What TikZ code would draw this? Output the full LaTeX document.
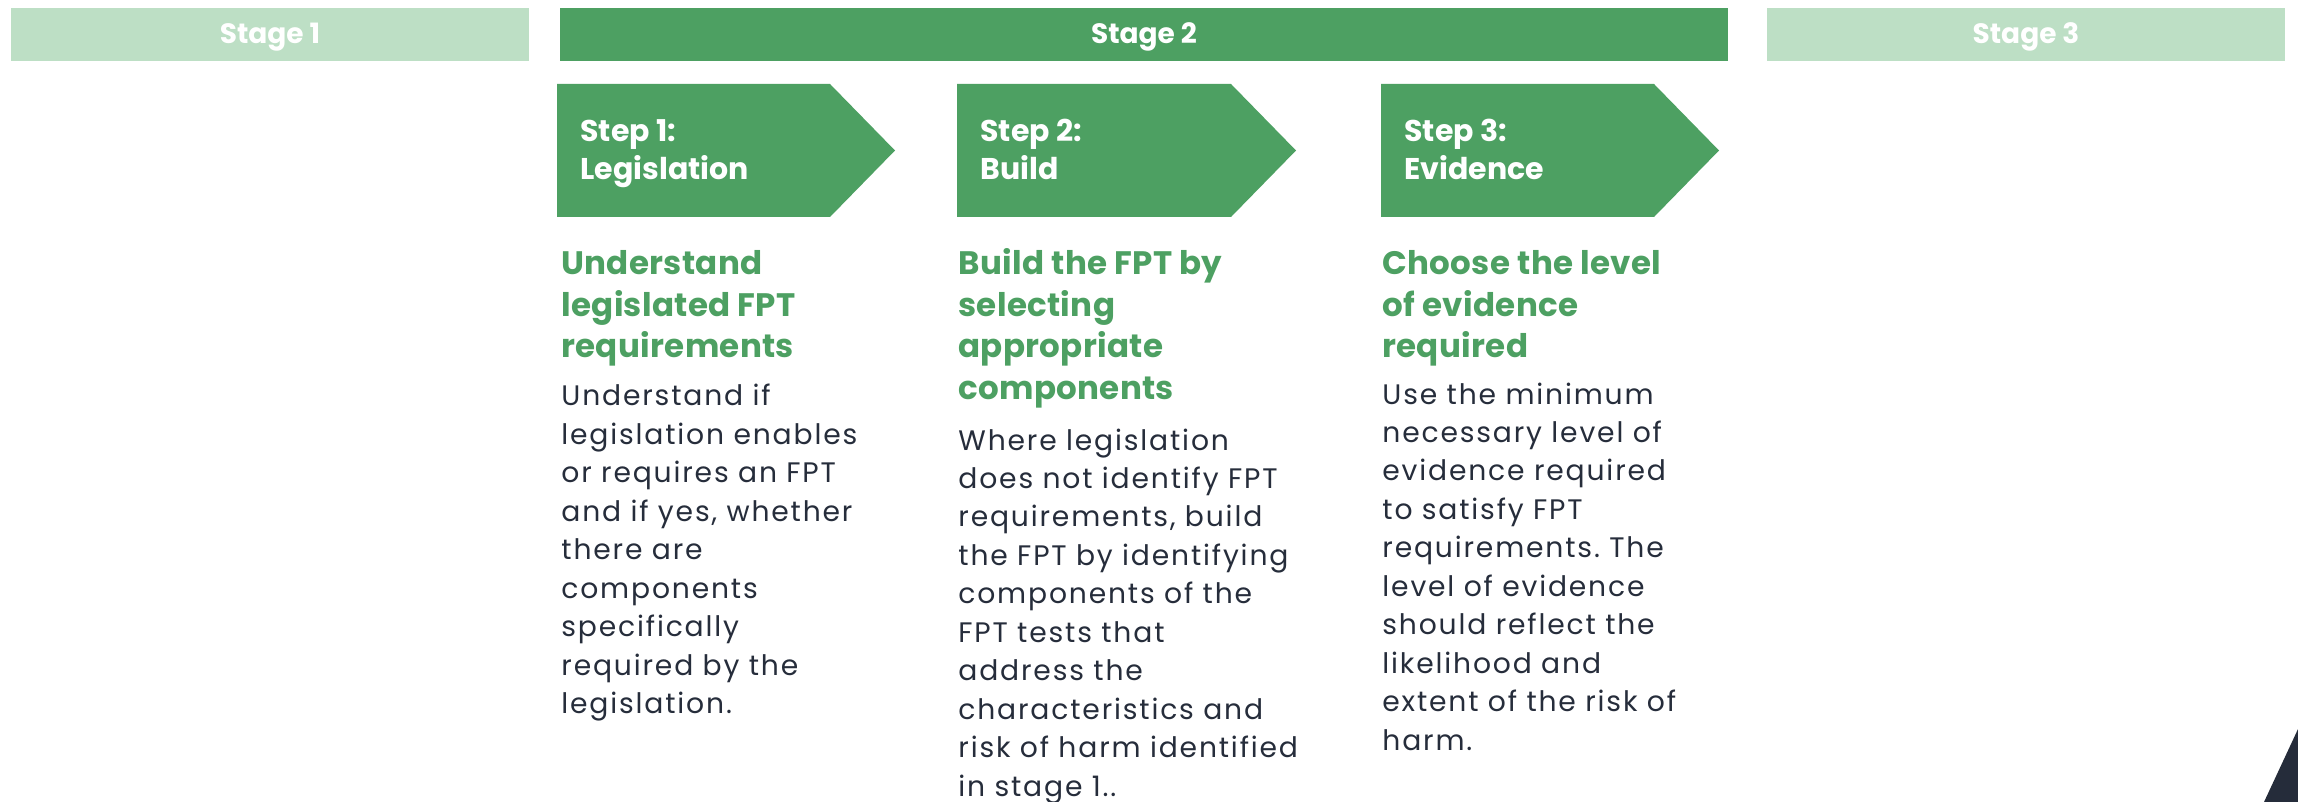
\documentclass[tikz,border=0pt]{standalone}
\usepackage{fontspec}
\setmainfont{Poppins}
\newfontfamily\bodyfont{Poppins}[LetterSpace=6.5]
\newfontfamily\headfont{Poppins}[LetterSpace=1]
\frenchspacing
\definecolor{dg}{HTML}{4DA062}
\definecolor{lg}{HTML}{BDDFC5}
\definecolor{ink}{HTML}{262D3B}
\definecolor{navy}{HTML}{252C3A}
\newcommand{\mylines}[1]{\begin{tabular}[t]{@{}l@{}}#1\end{tabular}}
\begin{document}
\begin{tikzpicture}[x=0.5pt,y=-0.5pt,
  stagetxt/.style={font=\bfseries\fontsize{14pt}{16pt}\selectfont, text=white, inner sep=0, anchor=base},
  steptxt/.style={font=\bfseries\fontsize{15pt}{19pt}\selectfont, text=white, inner sep=0, anchor=base west},
  headtxt/.style={font=\headfont\bfseries\fontsize{16.25pt}{20.75pt}\selectfont, text=dg, inner sep=0, anchor=base west},
  bodytxt/.style={font=\bodyfont\fontsize{14.1pt}{19.25pt}\selectfont, text=ink, inner sep=0, anchor=base west}]
\useasboundingbox (0,0) rectangle (2298,802);
% stage bars
\fill[lg] (11,8) rectangle (529,61);
\fill[dg] (560,8) rectangle (1728,61);
\fill[lg] (1767,8) rectangle (2285,61);
\node[stagetxt] (s1) at (270,44) {Stage 1};
\node[stagetxt] (s2) at (1144,44) {Stage 2};
\node[stagetxt] (s3) at (2026,44) {Stage 3};
% step arrows
\fill[dg] (557,84) -- (830,84) -- (895,150.5) -- (830,217) -- (557,217) -- cycle;
\fill[dg] (957,84) -- (1231,84) -- (1296,150.5) -- (1231,217) -- (957,217) -- cycle;
\fill[dg] (1381,84) -- (1654,84) -- (1719,150.5) -- (1654,217) -- (1381,217) -- cycle;
\node[steptxt] (t1) at (580,142) {\mylines{Step 1:\\Legislation}};
\node[steptxt] (t2) at (980,142) {\mylines{Step 2:\\Build}};
\node[steptxt] (t3) at (1404,142) {\mylines{Step 3:\\Evidence}};
% headings
\node[headtxt] (h1) at (561,275) {\mylines{Understand\\legislated FPT\\requirements}};
\node[headtxt] (h2) at (958,275) {\mylines{Build the FPT by\\selecting\\appropriate\\components}};
\node[headtxt] (h3) at (1382,275) {\mylines{Choose the level\\of evidence\\required}};
% bodies
\node[bodytxt] (b1) at (561,406) {\mylines{Understand if\\legislation enables\\or requires an FPT\\and if yes, whether\\there are\\components\\specifically\\required by the\\legislation.}};
\node[bodytxt] (b2) at (958,450) {\mylines{Where legislation\\does not identify FPT\\requirements, build\\the FPT by identifying\\components of the\\FPT tests that\\address the\\characteristics and\\risk of harm identified\\in stage 1..}};
\node[bodytxt] (b3) at (1382,404) {\mylines{Use the minimum\\necessary level of\\evidence required\\to satisfy FPT\\requirements. The\\level of evidence\\should reflect the\\likelihood and\\extent of the risk of\\harm.}};
% corner triangle
\fill[navy] (2264,802) -- (2298,729) -- (2298,802) -- cycle;
\end{tikzpicture}
\end{document}
